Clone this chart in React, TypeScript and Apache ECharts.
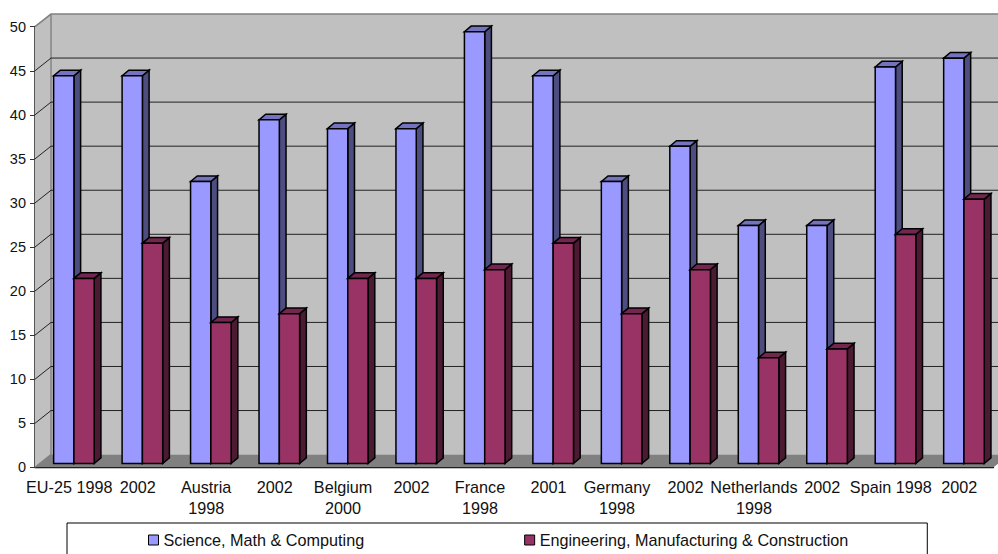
import React, { useEffect, useRef } from "react";
import * as echarts from "echarts";

const categories = [
  "EU-25 1998", "2002", "Austria\n1998", "2002", "Belgium\n2000", "2002", "France\n1998",
  "2001", "Germany\n1998", "2002", "Netherlands\n1998", "2002", "Spain 1998", "2002",
];
const scienceValues = [44, 44, 32, 39, 38, 38, 49, 44, 32, 36, 27, 27, 45, 46];
const engineeringValues = [21, 25, 16, 17, 21, 21, 22, 25, 17, 22, 12, 13, 26, 30];
const gridValues = [5, 10, 15, 20, 25, 30, 35, 40, 45];
const scienceName = "Science, Math & Computing";
const engineeringName = "Engineering, Manufacturing & Construction";

// Oblique projection of the chart box: how far the back wall sits from the front plane.
const DEPTH_X = 16;
const DEPTH_Y = 12.7;
// Bars stand a little behind the front plane and have a shallower depth of their own.
const BAR_INSET_Y = 3.8;
const BAR_WIDTH = 20.3;
const BAR_DEPTH_X = 6.7;
const BAR_DEPTH_Y = 5.6;

const LINE_COLOR = "#000";

function poly(points: number[][], fill: string, stroke?: string, lineWidth = 1) {
  return {
    type: "polygon",
    shape: { points },
    style: { fill, stroke: stroke ?? "none", lineWidth },
  };
}

// Draws a single box-shaped bar with its front, top and side faces.
function barRenderer(offset: number, front: string, top: string, side: string) {
  return (_: any, api: any) => {
    const base = api.coord([api.value(0), 0]);
    const head = api.coord([api.value(0), api.value(1)]);
    const x0 = base[0] + offset;
    const x1 = x0 + BAR_WIDTH;
    const yb = base[1] - BAR_INSET_Y;
    const yt = head[1] - BAR_INSET_Y;
    return {
      type: "group",
      children: [
        poly(
          [[x1, yt], [x1 + BAR_DEPTH_X, yt - BAR_DEPTH_Y], [x1 + BAR_DEPTH_X, yb - BAR_DEPTH_Y], [x1, yb]],
          side, LINE_COLOR, 1.5,
        ),
        poly(
          [[x0, yt], [x0 + BAR_DEPTH_X, yt - BAR_DEPTH_Y], [x1 + BAR_DEPTH_X, yt - BAR_DEPTH_Y], [x1, yt]],
          top, LINE_COLOR, 1.5,
        ),
        poly([[x0, yt], [x1, yt], [x1, yb], [x0, yb]], front, LINE_COLOR, 1.5),
      ],
    };
  };
}

// Side wall, back wall and floor of the box.
function renderWalls(params: any, api: any) {
  const c = params.coordSys;
  const left = c.x;
  const right = c.x + c.width;
  const top = c.y;
  const bottom = c.y + c.height;
  return {
    type: "group",
    children: [
      poly([[left, top], [left + DEPTH_X, top - DEPTH_Y], [left + DEPTH_X, bottom - DEPTH_Y], [left, bottom]], "#c0c0c0"),
      poly(
        [[left + DEPTH_X, top - DEPTH_Y], [right + DEPTH_X, top - DEPTH_Y], [right + DEPTH_X, bottom - DEPTH_Y], [left + DEPTH_X, bottom - DEPTH_Y]],
        "#c0c0c0",
      ),
      poly([[left, bottom], [left + DEPTH_X, bottom - DEPTH_Y], [right + DEPTH_X, bottom - DEPTH_Y], [right, bottom]], "#808080"),
      {
        type: "polyline",
        shape: { points: [[left, top], [left + DEPTH_X, top - DEPTH_Y], [right + DEPTH_X, top - DEPTH_Y]] },
        style: { fill: "none", stroke: "#808080", lineWidth: 1.6 },
      },
      {
        type: "polyline",
        shape: { points: [[left, bottom], [left + DEPTH_X, bottom - DEPTH_Y], [left + DEPTH_X, top - DEPTH_Y]] },
        style: { fill: "none", stroke: "#808080", lineWidth: 1.4 },
      },
    ],
  };
}

// One gridline: a diagonal across the side wall, then along the back wall.
function renderGridline(params: any, api: any) {
  const c = params.coordSys;
  const p = api.coord([0, api.value(1)]);
  const y = p[1];
  return {
    type: "polyline",
    shape: {
      points: [[c.x, y], [c.x + DEPTH_X, y - DEPTH_Y], [c.x + c.width + DEPTH_X, y - DEPTH_Y]],
    },
    style: { fill: "none", stroke: "#222", lineWidth: 1 },
  };
}

export default function App() {
  const ref = useRef<HTMLDivElement>(null);

  useEffect(() => {
    const chart = echarts.init(ref.current!, undefined, { renderer: "svg" });
    const axisText = { fontFamily: "Liberation Sans", fontSize: 14.5, color: "#111" };
    const labelText = { fontFamily: "Liberation Sans", fontSize: 16.2, color: "#111" };
    chart.setOption({
      animation: false,
      backgroundColor: "#fff",
      grid: { left: 35, right: 4.5, top: 26.7, bottom: 86.7 },
      xAxis: {
        type: "category",
        data: categories,
        boundaryGap: true,
        axisLine: { lineStyle: { color: "#000", width: 1.4 } },
        axisTick: { length: 6, lineStyle: { color: "#000" } },
        axisLabel: { ...labelText, interval: 0, margin: 9, lineHeight: 21 },
      },
      yAxis: {
        type: "value",
        min: 0,
        max: 50,
        interval: 5,
        splitLine: { show: false },
        axisLine: { show: true, lineStyle: { color: "#555", width: 2 } },
        axisTick: { show: true, length: 5, lineStyle: { color: "#333" } },
        axisLabel: { ...axisText, margin: 9 },
      },
      legend: {
        left: 67,
        top: 523,
        orient: "horizontal",
        itemWidth: 10,
        itemHeight: 10,
        itemGap: 160,
        padding: [9, 79, 20, 81],
        backgroundColor: "#fff",
        borderColor: "#000",
        borderWidth: 1,
        selectedMode: false,
        textStyle: labelText,
        data: [
          { name: scienceName, icon: "rect", itemStyle: { color: "#9999ff", borderColor: "#000", borderWidth: 1 } },
          { name: engineeringName, icon: "rect", itemStyle: { color: "#993366", borderColor: "#000", borderWidth: 1 } },
        ],
      },
      series: [
        {
          type: "custom",
          name: "walls",
          silent: true,
          clip: false,
          z: 1,
          data: [[0, 0]],
          renderItem: renderWalls,
        },
        {
          type: "custom",
          name: "gridlines",
          silent: true,
          clip: false,
          z: 2,
          data: gridValues.map((v) => [0, v]),
          renderItem: renderGridline,
        },
        {
          type: "custom",
          name: scienceName,
          clip: false,
          z: 3,
          itemStyle: { color: "#9999ff" },
          data: scienceValues.map((v, i) => [i, v]),
          renderItem: barRenderer(-15.6, "#9999ff", "#7373bf", "#4d4d80"),
        },
        {
          type: "custom",
          name: engineeringName,
          clip: false,
          z: 4,
          itemStyle: { color: "#993366" },
          data: engineeringValues.map((v, i) => [i, v]),
          renderItem: barRenderer(4.7, "#993366", "#732650", "#4d1a33"),
        },
      ],
    });
    return () => chart.dispose();
  }, []);

  return (
    <div
      ref={ref}
      style={{ position: "fixed", left: 0, top: 0, width: 998, height: 554 }}
    />
  );
}
